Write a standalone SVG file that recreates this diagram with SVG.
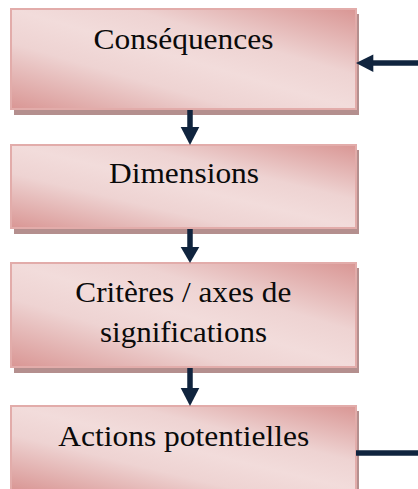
<svg xmlns="http://www.w3.org/2000/svg" width="418" height="489" viewBox="0 0 418 489">
  <style>
    .shadow { fill: #b48f8e; }
    .box { fill: url(#pinkGrad); stroke: #e2acaa; stroke-width: 2; }
    .label { font-family: "Liberation Serif", "DejaVu Serif", serif; font-size: 29px; fill: #0a0a0a; text-anchor: middle; }
    .conn { stroke: #10243e; stroke-width: 5.5; fill: none; }
    .head { fill: #10243e; }
  </style>
  <defs>
    <linearGradient id="pinkGrad" x1="0" y1="1" x2="1" y2="0">
      <stop offset="0" stop-color="#d99694"/>
      <stop offset="0.33" stop-color="#eed3d2"/>
      <stop offset="0.5" stop-color="#f2dcdb"/>
      <stop offset="0.67" stop-color="#eed3d2"/>
      <stop offset="1" stop-color="#d99694"/>
    </linearGradient>
  </defs>
  <rect width="418" height="489" fill="#ffffff"/>

  <g id="node-consequences">
    <rect class="shadow" x="14" y="14" width="345" height="101"/>
    <rect class="box" x="11" y="9" width="345" height="100"/>
    <text class="label" x="183.5" y="49.3" textLength="180" lengthAdjust="spacingAndGlyphs">Conséquences</text>
  </g>

  <g id="node-dimensions">
    <rect class="shadow" x="14" y="150" width="345" height="84"/>
    <rect class="box" x="11" y="145" width="345" height="83"/>
    <text class="label" x="184" y="183.3" textLength="150" lengthAdjust="spacingAndGlyphs">Dimensions</text>
  </g>

  <g id="node-criteres">
    <rect class="shadow" x="14" y="268" width="345" height="105"/>
    <rect class="box" x="11" y="263" width="345" height="104"/>
    <text class="label" x="183.3" y="301.7" textLength="216" lengthAdjust="spacingAndGlyphs">Critères / axes de</text>
    <text class="label" x="183.5" y="341.7" textLength="167" lengthAdjust="spacingAndGlyphs">significations</text>
  </g>

  <g id="node-actions">
    <rect class="shadow" x="14" y="411" width="345" height="84"/>
    <rect class="box" x="11" y="406" width="345" height="84"/>
    <text class="label" x="183.7" y="446" textLength="251" lengthAdjust="spacingAndGlyphs">Actions potentielles</text>
  </g>

  <g id="connectors">
    <!-- Conséquences -> Dimensions -->
    <line class="conn" x1="190" y1="110" x2="190" y2="128"/>
    <polygon class="head" points="180.7,127 199.3,127 190,145"/>
    <!-- Dimensions -> Critères -->
    <line class="conn" x1="190" y1="229" x2="190" y2="248"/>
    <polygon class="head" points="180.7,247 199.3,247 190,263"/>
    <!-- Critères -> Actions -->
    <line class="conn" x1="190" y1="368" x2="190" y2="389"/>
    <polygon class="head" points="180.7,388 199.3,388 190,406"/>
    <!-- feedback: from right into Conséquences -->
    <line class="conn" x1="418" y1="63" x2="372" y2="63"/>
    <polygon class="head" points="373.3,54.5 373.3,72 356,63"/>
    <!-- from Actions potentielles to the right -->
    <line class="conn" x1="356" y1="453" x2="418" y2="453"/>
  </g>
</svg>
